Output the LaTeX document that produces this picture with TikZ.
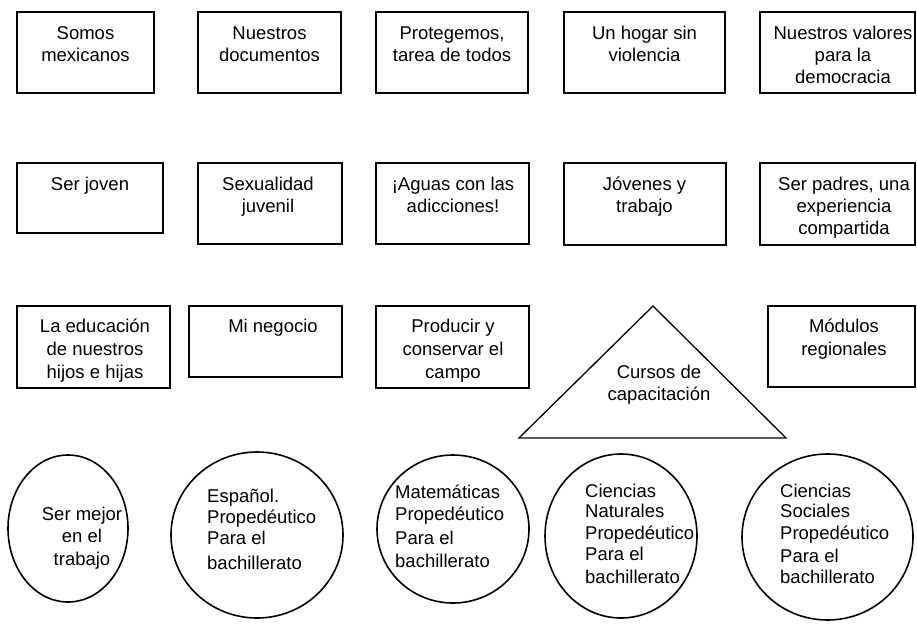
\documentclass[tikz,border=0pt]{standalone}
\usepackage{fontspec}
\setmainfont{Liberation Sans}
\usetikzlibrary{shapes.geometric}
\newcommand{\fls}{\rule{0pt}{18pt}}
\begin{document}
\begin{tikzpicture}[x=1pt,y=-1pt,
  box/.style={draw, line width=1.6pt, inner sep=0pt, outer sep=0pt},
  circ/.style={draw, ellipse, line width=1.6pt, inner sep=0pt, outer sep=0pt},
  tri/.style={draw, line width=1.3pt, line join=miter},
  txt/.style={anchor=north, inner sep=0pt, align=center, font=\fontsize{18.5}{22}\selectfont},
  ltxt/.style={anchor=north west, inner sep=0pt, align=left, font=\fontsize{18.5}{21}\selectfont}]
\useasboundingbox (0,0) rectangle (917,623);
% row 1
\node[box, minimum width=137pt, minimum height=81pt] (b11) at (85.5,52.5) {};
\node[box, minimum width=143pt, minimum height=81pt] (b12) at (269.5,52.5) {};
\node[box, minimum width=152pt, minimum height=81pt] (b13) at (452,52.5) {};
\node[box, minimum width=161pt, minimum height=81pt] (b14) at (644.5,52.5) {};
\node[box, minimum width=155pt, minimum height=81pt] (b15) at (837.5,52.5) {};
\node[txt] (t11) at (85.5,21) {\fls Somos\\mexicanos};
\node[txt] (t12) at (269.5,21) {\fls Nuestros\\documentos};
\node[txt] (t13) at (452,21) {\fls Protegemos,\\tarea de todos};
\node[txt] (t14) at (644.5,21) {\fls Un hogar sin\\violencia};
\node[txt] (t15) at (843,21) {\fls Nuestros valores\\para la\\democracia};
% row 2
\node[box, minimum width=146pt, minimum height=70pt] (b21) at (90,198) {};
\node[box, minimum width=144pt, minimum height=81pt] (b22) at (270,203.5) {};
\node[box, minimum width=153pt, minimum height=81pt] (b23) at (452.5,203.5) {};
\node[box, minimum width=162pt, minimum height=82pt] (b24) at (645,204) {};
\node[box, minimum width=155pt, minimum height=82pt] (b25) at (837.5,204) {};
\node[txt] (t21) at (90,172) {\fls Ser joven};
\node[txt] (t22) at (268,172) {\fls Sexualidad\\juvenil};
\node[txt] (t23) at (453,172) {\fls ¡Aguas con las\\adicciones!};
\node[txt] (t24) at (644.5,172) {\fls Jóvenes y\\trabajo};
\node[txt] (t25) at (844,172) {\fls Ser padres, una\\experiencia\\compartida};
% row 3
\node[box, minimum width=153pt, minimum height=82pt] (b31) at (93.5,347) {};
\node[box, minimum width=153pt, minimum height=71pt] (b32) at (265.5,341.5) {};
\node[box, minimum width=153pt, minimum height=82pt] (b33) at (452.5,347) {};
\node[box, minimum width=147pt, minimum height=81pt] (b35) at (841.5,346.5) {};
\node[txt, font=\fontsize{18.5}{23}\selectfont] (t31) at (95,314) {\fls La educación\\de nuestros\\hijos e hijas};
\node[txt] (t32) at (273,314) {\fls Mi negocio};
\node[txt, font=\fontsize{18.5}{23}\selectfont] (t33) at (453,314) {\fls Producir y\\conservar el\\campo};
\node[txt, font=\fontsize{18.5}{23}\selectfont] (t35) at (844,314) {\fls Módulos\\regionales};
% triangle
\coordinate (tA) at (653,306);
\coordinate (tB) at (786,438);
\coordinate (tC) at (519,438);
\draw[tri] (tA) -- (tB) -- (tC) -- cycle;
\node[txt] (t34) at (659,360) {\fls Cursos de\\capacitación};
% circles
\node[circ, minimum width=120pt, minimum height=147pt] (c1) at (68,528.5) {};
\node[circ, minimum width=172pt, minimum height=166pt] (c2) at (257,535) {};
\node[circ, minimum width=152pt, minimum height=148pt] (c3) at (453,529) {};
\node[circ, minimum width=152pt, minimum height=164pt] (c4) at (621,536) {};
\node[circ, minimum width=171pt, minimum height=166pt] (c5) at (827.5,537) {};
\node[txt, font=\fontsize{18.5}{22.5}\selectfont] (tc1) at (82,502) {\fls Ser mejor\\en el\\trabajo};
\node[ltxt] (tc2) at (207,484) {\fls Español.\\Propedéutico\\Para el\\[4pt]bachillerato};
\node[ltxt, font=\fontsize{18.5}{22}\selectfont] (tc3) at (395,480) {\fls Matemáticas\\Propedéutico\\[2pt]Para el\\[1pt]bachillerato};
\node[ltxt] (tc4) at (585,479) {\fls Ciencias\\[-1pt]Naturales\\[1pt]Propedéutico\\Para el\\[2pt]bachillerato};
\node[ltxt] (tc5) at (780,479) {\fls Ciencias\\[-1pt]Sociales\\[1pt]Propedéutico\\[2pt]Para el\\bachillerato};
\end{tikzpicture}
\end{document}
